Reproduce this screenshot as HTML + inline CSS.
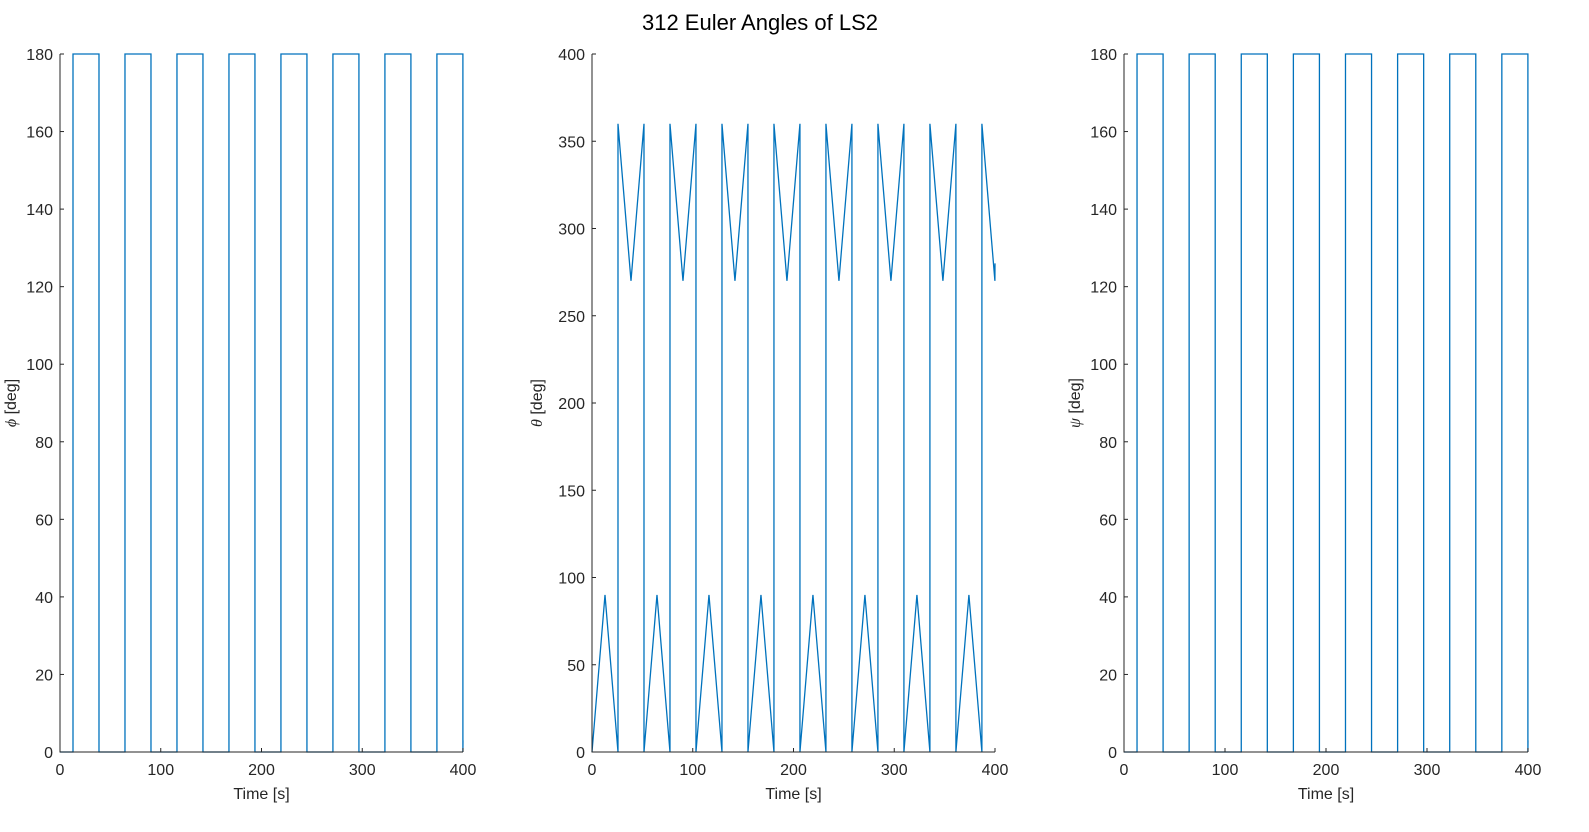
<!DOCTYPE html>
<html><head><meta charset="utf-8"><style>
body{margin:0;background:#fff;}
svg{display:block;font-family:"Liberation Sans",Arial,sans-serif;}
</style></head><body>
<svg id="fig" width="1589" height="832">
<text x="760" y="30" font-size="22" text-anchor="middle" fill="#000">312 Euler Angles of LS2</text>
</svg>
<script>
const phiT=[0,12.9,12.9,38.7,38.7,64.5,64.5,90.3,90.3,116.1,116.1,141.9,141.9,167.7,167.7,193.5,193.5,219.3,219.3,245.1,245.1,270.9,270.9,296.7,296.7,322.5,322.5,348.3,348.3,374.1,374.1,399.9,399.9,400];
const phiV=[0,0,180,180,0,0,180,180,0,0,180,180,0,0,180,180,0,0,180,180,0,0,180,180,0,0,180,180,0,0,180,180,0,3];
const thetaT=[0,12.9,25.8,25.8,38.7,51.6,51.6,64.5,77.4,77.4,90.3,103.2,103.2,116.1,129,129,141.9,154.8,154.8,167.7,180.6,180.6,193.5,206.4,206.4,219.3,232.2,232.2,245.1,258,258,270.9,283.8,283.8,296.7,309.6,309.6,322.5,335.4,335.4,348.3,361.2,361.2,374.1,387,387,399.9,400];
const thetaV=[0,90,0,360,270,360,0,90,0,360,270,360,0,90,0,360,270,360,0,90,0,360,270,360,0,90,0,360,270,360,0,90,0,360,270,360,0,90,0,360,270,360,0,90,0,360,270,280];
const psiT=phiT.slice();
const psiV=phiV.slice();
const xTicks=[0,100,200,300,400];
const yTicks180=[0,20,40,60,80,100,120,140,160,180];
const yTicks400=[0,50,100,150,200,250,300,350,400];
const NS="http://www.w3.org/2000/svg";
const svg=document.getElementById('fig');
function mk(tag,attrs,parent){const e=document.createElementNS(NS,tag);for(const k in attrs)e.setAttribute(k,attrs[k]);(parent||svg).appendChild(e);return e;}
function panel(name,x0,x1,yMax,yTicks,T,V,sym){
  const yTop=54,yBot=752;
  const sx=v=>x0+(v/400)*(x1-x0);
  const sy=v=>yBot-(v/yMax)*(yBot-yTop);
  const g=mk('g',{});
  
  
  let d='';
  for(let i=0;i<T.length;i++)d+=(i?'L':'M')+sx(T[i]).toFixed(2)+' '+sy(V[i]).toFixed(2);
  const p=mk('path',{d:d,fill:'none',stroke:'#0072BD','stroke-width':1.3},g);
  
  
  const ax=mk('path',{d:`M${x0} ${yTop}L${x0} ${yBot}L${x1} ${yBot}`,fill:'none',stroke:'#262626','stroke-width':1},g);
  
  
  xTicks.forEach(v=>{
    mk('line',{x1:sx(v),x2:sx(v),y1:yBot,y2:yBot-4,stroke:'#262626'},g);
    const t=mk('text',{x:sx(v),y:yBot+23,'font-size':16,'text-anchor':'middle',fill:'#262626'},g);
    t.textContent=v;
    
    
  });
  yTicks.forEach(v=>{
    mk('line',{x1:x0,x2:x0+4,y1:sy(v),y2:sy(v),stroke:'#262626'},g);
    const t=mk('text',{x:x0-7,y:sy(v)+6,'font-size':16,'text-anchor':'end',fill:'#262626'},g);
    t.textContent=v;
    
    
  });
  const xl=mk('text',{x:(x0+x1)/2,y:799,'font-size':16,'text-anchor':'middle',fill:'#262626'},g);
  xl.textContent='Time [s]';
  
  
  const yc=(yTop+yBot)/2;
  const off = yMax===400?50:44;
  const yl=mk('text',{x:x0-off,y:yc,'font-size':16,'text-anchor':'middle',fill:'#262626',transform:`rotate(-90 ${x0-off} ${yc})`},g);
  const s=mk('tspan',{'font-style':'italic','font-family':'Liberation Serif,serif'},yl);s.textContent=sym;
  const r=mk('tspan',{},yl);r.textContent=' [deg]';
  
  
}
panel('phi',60,463,180,yTicks180,phiT,phiV,'ϕ');
panel('theta',592,995,400,yTicks400,thetaT,thetaV,'θ');
panel('psi',1124,1528,180,yTicks180,psiT,psiV,'ψ');
</script>
</body></html>
